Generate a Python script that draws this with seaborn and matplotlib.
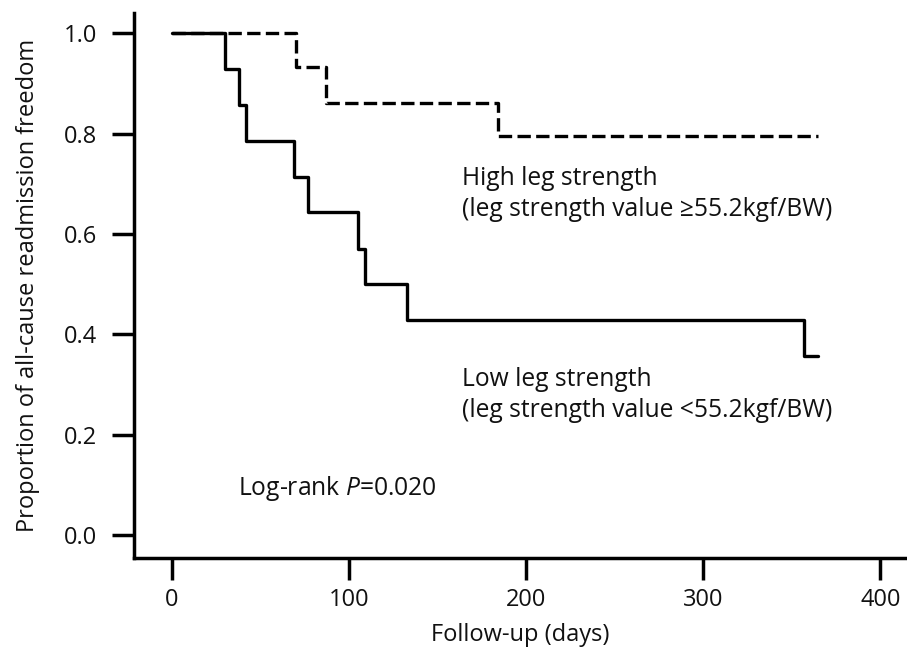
import matplotlib
matplotlib.use("Agg")
import matplotlib.pyplot as plt
import seaborn as sns
import pandas as pd

# Kaplan-Meier step data
low_days = [0, 30, 38, 42, 69, 77, 105, 109, 133, 357, 365]
low_surv = [1.0, 0.929, 0.857, 0.786, 0.714, 0.643, 0.571, 0.500, 0.429, 0.357, 0.357]
high_days = [0, 70, 87, 184, 365]
high_surv = [1.0, 0.933, 0.862, 0.795, 0.795]

x_ticks = [0, 100, 200, 300, 400]
y_ticks = [0.0, 0.2, 0.4, 0.6, 0.8, 1.0]

high_label = "High leg strength\n(leg strength value \u226555.2kgf/BW)"
low_label = "Low leg strength\n(leg strength value <55.2kgf/BW)"
p_label = r"Log-rank $\mathit{P}$=0.020"
x_title = "Follow-up (days)"
y_title = "Proportion of all-cause readmission freedom"

sns.set_theme(style="ticks")
plt.rcParams["font.family"] = ["Open Sans", "DejaVu Sans"]
plt.rcParams["mathtext.fontset"] = "custom"
plt.rcParams["mathtext.rm"] = "Open Sans"
plt.rcParams["mathtext.it"] = "Open Sans:italic"

FS = 17
FS_ANN = 17.7

fig = plt.figure(figsize=(9.07, 6.48), dpi=100)
ax = fig.add_axes([134 / 907, 90 / 648, 1 - 134 / 907, (558 - 13) / 648])

df_low = pd.DataFrame({"days": low_days, "surv": low_surv})
df_high = pd.DataFrame({"days": high_days, "surv": high_surv})

sns.lineplot(data=df_low, x="days", y="surv", ax=ax, color="black",
             linewidth=2.4, drawstyle="steps-post", estimator=None, sort=False)
sns.lineplot(data=df_high, x="days", y="surv", ax=ax, color="black",
             linewidth=2.4, drawstyle="steps-post", estimator=None, sort=False,
             dashes=False, linestyle=(0, (4.0, 1.6)))

ax.set_xlim(-21.4, 415)
ax.set_ylim(-0.0458, 1.0405)
ax.set_xticks(x_ticks)
ax.set_xticklabels([str(t) for t in x_ticks])
ax.set_yticks(y_ticks)
ax.set_yticklabels([f"{t:.1f}" for t in y_ticks])

for s in ["top", "right"]:
    ax.spines[s].set_visible(False)
for s in ["left", "bottom"]:
    ax.spines[s].set_linewidth(2.5)
    ax.spines[s].set_color("black")

ax.tick_params(axis="both", direction="out", length=15.5, width=2.5,
               color="black", labelsize=FS, labelcolor="#111111")
ax.tick_params(axis="x", pad=6)
ax.tick_params(axis="y", pad=11)

ax.set_xlabel(x_title, fontsize=FS, color="#111111", labelpad=8)
ax.set_ylabel(y_title, fontsize=FS, color="#111111", labelpad=17)

ax.text(163.7, 0.680, high_label, fontsize=FS_ANN, ha="left", va="center",
        linespacing=1.35, color="#111111")
ax.text(163.7, 0.279, low_label, fontsize=FS_ANN, ha="left", va="center",
        linespacing=1.35, color="#111111")
ax.text(37.2, 0.092, p_label, fontsize=FS_ANN, ha="left", va="center",
        color="#111111")

fig.savefig("out.png", dpi=100)
